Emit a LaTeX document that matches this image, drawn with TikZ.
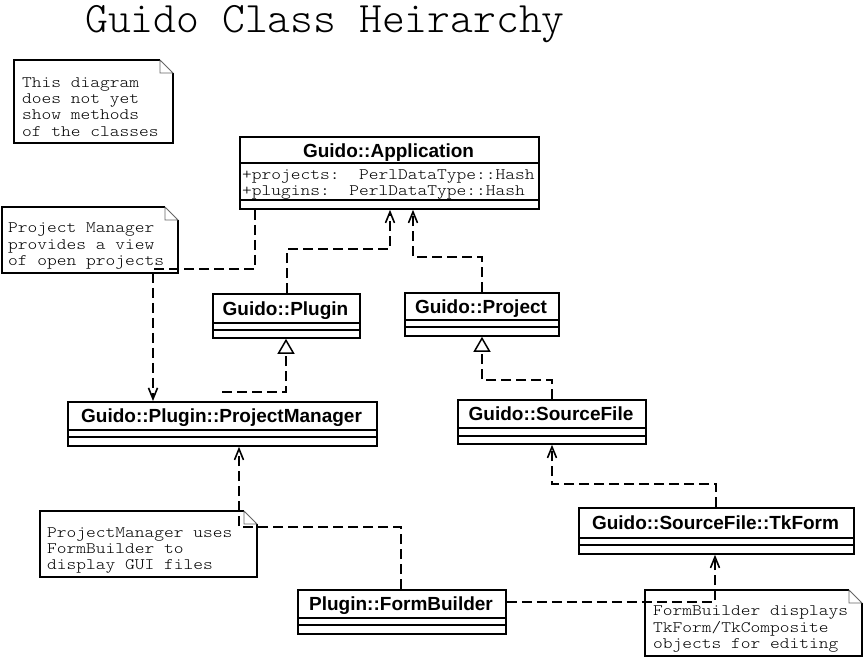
\documentclass[tikz,border=0pt]{standalone}
\usepackage{fontspec}
\setmainfont{Liberation Sans}
\newfontfamily\monof[FakeStretch=1.16]{Latin Modern Mono Light}
\newfontfamily\titlef{Latin Modern Mono Light}
\usetikzlibrary{arrows.meta}
\lineskiplimit=-100pt
\newcommand\umlclass[9]{%
  \node[box, minimum width=#4pt, minimum height=#5pt] (#1) at (#2,#3) {};
  \draw[boxline] (#2,#6) -- ++(#4,0);
  \draw[boxline] (#2,#7) -- ++(#4,0);
  \node[ctitle] (#1-t) at (#2+#4/2,#8) {#9};
}
\newcommand\umlnote[8]{%
  \draw[boxline, fill=white] (#4-13,#3) -- (#2,#3) -- (#2,#5) -- (#4,#5) -- (#4,#3+13);
  \draw[foldline] (#4-13,#3) -- (#4,#3+13) (#4-13,#3) -- (#4-13,#3+13) -- (#4,#3+13);
  \node[mono] (#1) at (#6,#7) {#8};
}
\begin{document}
\begin{tikzpicture}[x=1pt,y=-1pt,
  box/.style={draw, line width=1.8pt, inner sep=0pt, anchor=north west},
  boxline/.style={line width=1.8pt},
  foldline/.style={line width=0.8pt, black!60},
  ctitle/.style={font=\fontsize{19}{20}\selectfont\bfseries, inner sep=0pt, anchor=base},
  mono/.style={font=\monof\fontsize{16}{16.2}\selectfont, inner sep=0pt, align=left, anchor=north west},
  dashline/.style={line width=1.8pt, dash pattern=on 10pt off 5pt},
  dep/.style={dashline, -{Straight Barb[length=11pt,width=9pt,line width=1.6pt]}},
  gen/.style={dashline, -{Triangle[open,length=15pt,width=17pt,line width=1.5pt,fill=white]}},
]
\fill[white] (0,0) rectangle (863,657);
\useasboundingbox (0,0) rectangle (863,657);

\node[font=\titlef\fontsize{43.5}{44}\selectfont, inner sep=0pt, anchor=base west] (title) at (85,32) {Guido Class Heirarchy};

% notes
\umlnote{note1}{14}{60}{173}{143}{22}{77.5}{This diagram\\does not yet\\show methods\\of the classes}
\umlnote{note2}{2}{207}{178}{273}{8}{223}{Project Manager\\provides a view\\of open projects}
\umlnote{note3}{40}{511}{257}{577}{47}{527}{ProjectManager uses\\FormBuilder to\\display GUI files}
\umlnote{note4}{645}{590}{862}{656}{653}{606}{FormBuilder displays\\TkForm/TkComposite\\objects for editing}

% classes
\umlclass{app}{239}{136}{299}{72}{163}{200}{157}{Guido::Application}
\node[mono] (app-attr) at (242,169.5) {+projects:~~PerlDataType::Hash\\+plugins:~~PerlDataType::Hash};
\umlclass{plugin}{212}{293}{147}{44}{323}{330}{315}{Guido::Plugin}
\umlclass{project}{404}{292}{154}{43}{320}{327}{313}{Guido::Project}
\umlclass{pm}{67}{401}{309}{44}{430}{437}{422.5}{Guido::Plugin::ProjectManager}
\umlclass{sf}{457}{399}{188}{44}{428}{436}{420.5}{Guido::SourceFile}
\umlclass{tk}{578}{507}{275}{46}{538}{545}{529.5}{Guido::SourceFile::TkForm}
\umlclass{fb}{297}{589}{208}{44}{618}{625}{610.5}{Plugin::FormBuilder}

% connectors
\draw[dep] ([xshift=16pt]app.south west) -- ++(0,59) -| ([xshift=86pt]pm.north west);
\draw[dep] ([xshift=75pt]plugin.north west) -- ++(0,-44) -| ([xshift=151pt]app.south west);
\draw[dep] ([xshift=78pt]project.north west) -- ++(0,-35) -| ([xshift=174pt]app.south west);
\draw[gen, dash pattern=on 0pt off 9pt on 10pt off 5pt on 10pt off 5pt on 10pt off 5pt on 10pt off 5pt on 10pt off 5pt on 10pt off 5pt on 10pt off 5pt on 10pt off 5pt on 10pt off 5pt on 10pt off 5pt]
  ([xshift=155pt]pm.north west) -- ++(0,-9) -| ([xshift=74pt]plugin.south west);
\draw[gen] ([xshift=95pt]sf.north west) -- ++(0,-19) -| ([xshift=78pt]project.south west);
\draw[dep] ([xshift=138pt]tk.north west) -- ++(0,-23) -| ([xshift=95pt]sf.south west);
\draw[dep] ([xshift=104pt]fb.north west) -- ++(0,-62) -| ([xshift=172pt]pm.south west);
\draw[dep] ([yshift=-13pt]fb.north east) -| ([xshift=137pt]tk.south west);
\end{tikzpicture}
\end{document}
